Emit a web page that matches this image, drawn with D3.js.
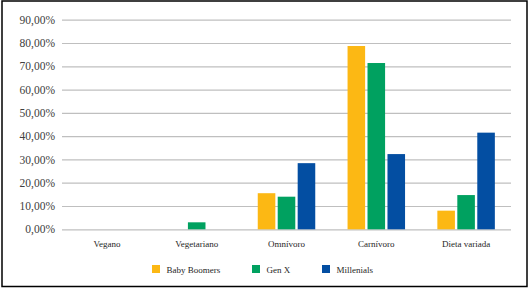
<!DOCTYPE html>
<html>
<head>
<meta charset="utf-8">
<script src="https://cdn.jsdelivr.net/npm/d3@7"></script>
<style>
  body { margin: 0; background: #fff; }
  svg { display: block; }
</style>
</head>
<body>
<svg id="chart"></svg>
<script>
// Data (shares, 0..1)
const categories = ["Vegano", "Vegetariano", "Omnívoro", "Carnívoro", "Dieta variada"];
const seriesNames = ["Baby Boomers", "Gen X", "Millenials"];
const babyBoomers = [0, 0, 0.155, 0.787, 0.080];
const genX = [0, 0.030, 0.140, 0.714, 0.147];
const millenials = [0, 0, 0.284, 0.323, 0.415];
const yTicks = [0, 0.1, 0.2, 0.3, 0.4, 0.5, 0.6, 0.7, 0.8, 0.9];
const colors = ["#FCB814", "#00A160", "#034EA2"];

const seriesValues = [babyBoomers, genX, millenials];
const rows = categories.map((c, i) => ({
    category: c,
    values: seriesNames.map((s, j) => ({ series: s, value: seriesValues[j][i] }))
}));

const W = 528, H = 288;
const svg = d3.select("#chart").attr("width", W).attr("height", H);

// outer frame
svg.append("rect")
    .attr("x", 2).attr("y", 1)
    .attr("width", 525).attr("height", 285.5)
    .attr("fill", "none").attr("stroke", "#000").attr("stroke-width", 1.5);

const plot = { left: 62, right: 511, top: 19.7, bottom: 229.3 };

const locale = d3.formatLocale({ decimal: ",", thousands: ".", grouping: [3], currency: ["", "€"] });
const fmt = locale.format(".2%");

const y = d3.scaleLinear().domain([0, 0.9]).range([plot.bottom, plot.top]);
const x0 = d3.scaleBand().domain(categories).range([plot.left, plot.right]);
const groupW = 57.5;
const x1 = d3.scaleBand().domain(seriesNames).range([0, groupW]).paddingInner(0.12);
const color = d3.scaleOrdinal().domain(seriesNames).range(colors);

// gridlines + y labels
const yAxis = svg.append("g")
    .attr("transform", `translate(${plot.left},0)`)
    .call(d3.axisLeft(y).tickValues(yTicks).tickFormat(fmt)
        .tickSize(-(plot.right - plot.left)).tickPadding(7));
yAxis.select(".domain").remove();
yAxis.selectAll(".tick line").attr("stroke", "#BFBFBF").attr("stroke-width", 1.2);
yAxis.selectAll(".tick text")
    .style("font-family", "'Liberation Serif', 'DejaVu Serif', serif")
    .style("font-size", "11.5px")
    .attr("fill", "#404040");

// bars
const groups = svg.append("g").selectAll("g")
    .data(rows)
    .join("g")
    .attr("transform", d => `translate(${x0(d.category) + (x0.bandwidth() - groupW) / 2},0)`);

groups.selectAll("rect")
    .data(d => d.values.filter(v => v.value > 0))
    .join("rect")
    .attr("x", d => x1(d.series))
    .attr("y", d => y(d.value))
    .attr("width", x1.bandwidth())
    .attr("height", d => y(0) - y(d.value))
    .attr("fill", d => color(d.series));

// category labels
const xAxis = svg.append("g")
    .attr("transform", `translate(0,${plot.bottom})`)
    .call(d3.axisBottom(x0).tickSize(0).tickPadding(11));
xAxis.select(".domain").remove();
xAxis.selectAll(".tick text")
    .style("font-family", "'Liberation Serif', 'DejaVu Serif', serif")
    .style("font-size", "9px")
    .attr("fill", "#262626");

// legend
const legendX = [152, 252, 322];
const legend = svg.append("g").selectAll("g")
    .data(seriesNames)
    .join("g")
    .attr("transform", (d, i) => `translate(${legendX[i]},265)`);
legend.append("rect")
    .attr("width", 8).attr("height", 8)
    .attr("fill", d => color(d));
legend.append("text")
    .attr("x", 14.5).attr("y", 7.5)
    .style("font-family", "'Liberation Serif', 'DejaVu Serif', serif")
    .style("font-size", "9px")
    .attr("fill", "#262626")
    .text(d => d);
</script>
</body>
</html>
